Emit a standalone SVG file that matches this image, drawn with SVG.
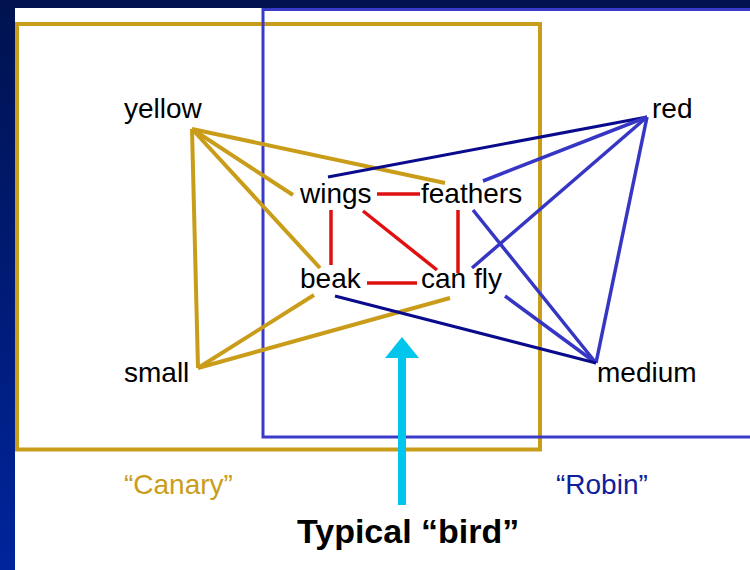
<svg xmlns="http://www.w3.org/2000/svg" width="750" height="570" viewBox="0 0 750 570">
  <defs>
    <linearGradient id="frame" x1="0" y1="0" x2="0" y2="1">
      <stop offset="0" stop-color="#00124F"/>
      <stop offset="1" stop-color="#00249C"/>
    </linearGradient>
    <style>
      .node { font-family: "Liberation Sans", Arial, sans-serif; font-size: 28px; fill: #000; }
      .gold { stroke: #C99D1A; stroke-width: 4; fill: none; }
      .navy { stroke: #0A0A8C; stroke-width: 3; fill: none; }
      .blue { stroke: #3636C4; stroke-width: 3.5; fill: none; }
      .link { stroke: #E01010; stroke-width: 3.5; fill: none; }
      .caption { font-family: "Liberation Sans", Arial, sans-serif; font-size: 28px; }
    </style>
  </defs>

  <!-- slide frame -->
  <rect x="0" y="0" width="750" height="570" fill="url(#frame)"/>
  <rect x="15" y="8" width="735" height="562" fill="#FFFFFF"/>

  <!-- category boxes -->
  <g id="canary-box">
    <rect x="17" y="24" width="523" height="425.5" fill="none" stroke="#C99D1A" stroke-width="4"/>
  </g>
  <g id="robin-box">
    <rect x="263" y="9.5" width="500" height="427.5" fill="none" stroke="#3A3AC8" stroke-width="3"/>
  </g>

  <!-- connectors -->
  <g id="connectors">
    <!-- canary features -->
    <line class="gold" x1="192" y1="129" x2="198" y2="368"/>
    <line class="gold" x1="192" y1="129" x2="293" y2="195"/>
    <line class="gold" x1="192" y1="129" x2="320" y2="268"/>
    <line class="gold" x1="192" y1="129" x2="445" y2="183"/>
    <line class="gold" x1="198" y1="368" x2="314" y2="295"/>
    <line class="gold" x1="198" y1="368" x2="450" y2="298"/>

    <!-- robin features -->
    <line class="navy" x1="647" y1="117" x2="328" y2="177"/>
    <line class="blue" x1="647" y1="117" x2="483" y2="181"/>
    <line class="blue" x1="647" y1="117" x2="472" y2="268"/>
    <line class="blue" x1="647" y1="117" x2="596" y2="363"/>
    <line class="blue" x1="596" y1="363" x2="473" y2="210"/>
    <line class="blue" x1="596" y1="363" x2="505" y2="296"/>
    <line class="navy" x1="596" y1="363" x2="335" y2="296"/>

    <!-- shared bird features -->
    <line class="link" x1="377" y1="194" x2="420" y2="194"/>
    <line class="link" x1="367" y1="283" x2="417" y2="283"/>
    <line class="link" x1="331" y1="210" x2="331" y2="265"/>
    <line class="link" x1="458" y1="210" x2="458" y2="273"/>
    <line class="link" x1="363" y1="211" x2="437" y2="270"/>

    <!-- pointer to the typical bird -->
    <rect x="398" y="356" width="8" height="149" fill="#00C6EE"/>
    <polygon points="402,337 385,358 419,358" fill="#00C6EE"/>
  </g>

  <!-- feature nodes -->
  <g id="yellow"><text class="node" x="124" y="118">yellow</text></g>
  <g id="red"><text class="node" x="652" y="118">red</text></g>
  <g id="wings"><text class="node" x="300" y="203">wings</text></g>
  <g id="feathers"><text class="node" x="421" y="203">feathers</text></g>
  <g id="beak"><text class="node" x="300" y="288">beak</text></g>
  <g id="can-fly"><text class="node" x="421" y="288">can fly</text></g>
  <g id="small"><text class="node" x="124" y="382">small</text></g>
  <g id="medium"><text class="node" x="597" y="382">medium</text></g>

  <!-- captions -->
  <g id="canary-label"><text class="caption" x="124" y="494" fill="#C99D1A">“Canary”</text></g>
  <g id="robin-label"><text class="caption" x="556" y="494" fill="#10209C">“Robin”</text></g>
  <g id="typical-bird"><text x="297" y="543" font-family="'Liberation Sans', Arial, sans-serif" font-size="34" font-weight="bold" fill="#000">Typical “bird”</text></g>
</svg>
